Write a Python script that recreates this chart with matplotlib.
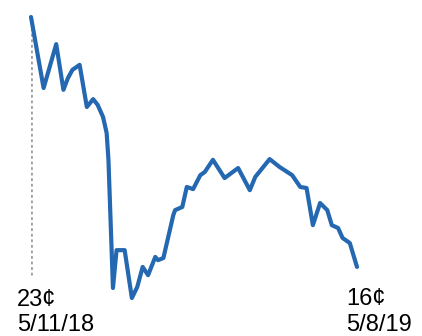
import pandas as pd
import matplotlib.pyplot as plt

# price in cents, by days since 5/11/18
start = pd.Timestamp("2018-05-11")
days = [0, 14, 28, 36, 41, 46, 54, 62, 69, 74, 80, 84, 86, 91, 95, 104, 112, 118,
        124, 130, 138, 141, 147, 158, 160, 168, 173, 180, 188, 193, 202, 215, 230,
        243, 249, 265, 276, 290, 299, 306, 313, 321, 329, 334, 341, 346, 354, 362]
prices = [23.00, 21.01, 22.24, 20.96, 21.29, 21.52, 21.66, 20.48, 20.70, 20.54,
          20.20, 19.75, 19.00, 15.41, 16.47, 16.47, 15.13, 15.44, 16.00, 15.77,
          16.28, 16.19, 16.25, 17.45, 17.59, 17.68, 18.24, 18.18, 18.57, 18.66,
          19.00, 18.49, 18.77, 18.15, 18.52, 19.02, 18.80, 18.57, 18.24, 18.21,
          17.17, 17.79, 17.59, 17.17, 17.09, 16.81, 16.67, 16.00]
dates = [start + pd.Timedelta(days=d) for d in days]

plt.rcParams['font.family'] = ['Liberation Sans', 'DejaVu Sans']

fig = plt.figure(figsize=(4.22, 3.36), dpi=100)
ax = fig.add_axes([31 / 422, 1 - 298 / 336, 326 / 422, 281 / 336])

ax.axvline(dates[0], ymin=0.082, ymax=1, color='#a0a0a0', linestyle=(0, (1, 1)),
           linewidth=2, zorder=1)
ax.plot(dates, prices, color='#2468b2', linewidth=3, solid_joinstyle='round',
        solid_capstyle='round', clip_on=False, zorder=2)

ax.set_xlim(dates[0], dates[-1])
ax.set_ylim(min(prices), max(prices))
ax.axis('off')

fig.text(17 / 422, 1 - 306 / 336, "23¢", fontsize=17, va='baseline', ha='left')
fig.text(17 / 422, 1 - 331 / 336, "5/11/18", fontsize=17, va='baseline', ha='left')
fig.text(346 / 422, 1 - 305 / 336, "16¢", fontsize=17, va='baseline', ha='left')
fig.text(346 / 422, 1 - 331 / 336, "5/8/19", fontsize=17, va='baseline', ha='left')

fig.savefig("out.png", dpi=100)
